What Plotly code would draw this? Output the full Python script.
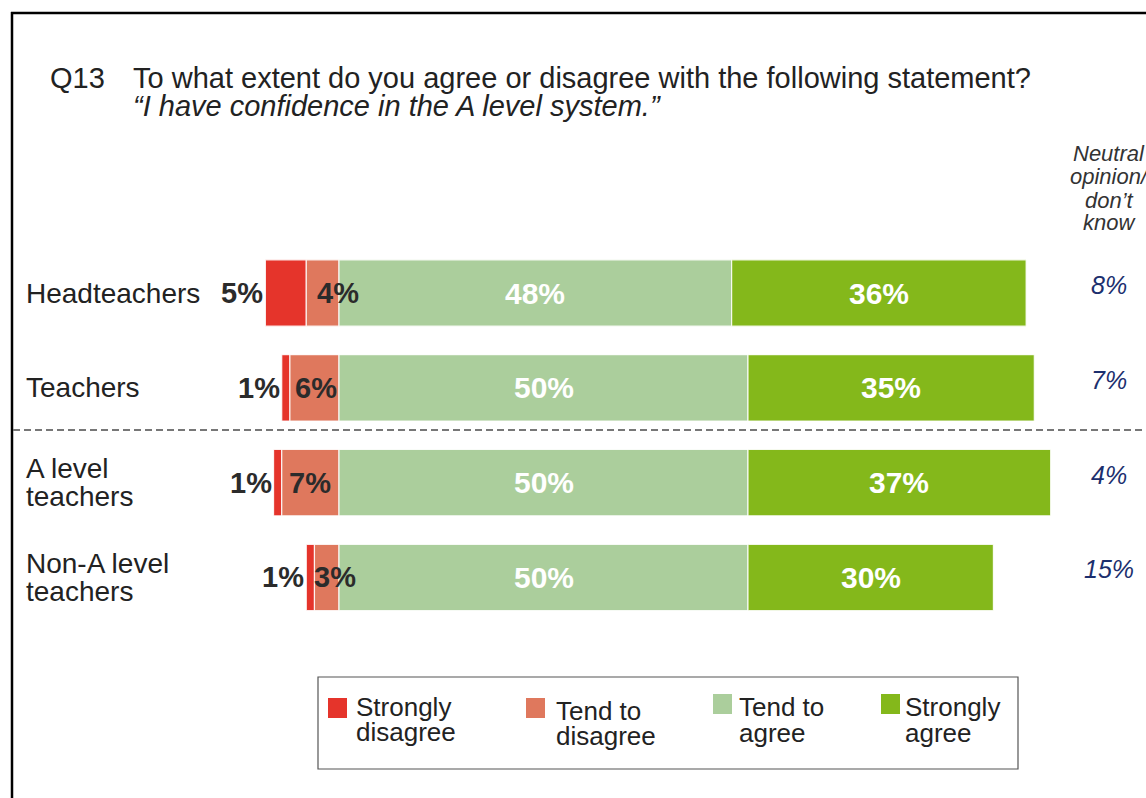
import plotly.graph_objects as go

# Survey responses (percent) per respondent group
groups = ["Headteachers", "Teachers", "A level teachers", "Non-A level teachers"]
group_label_lines = [["Headteachers"], ["Teachers"], ["A level", "teachers"], ["Non-A level", "teachers"]]
strongly_disagree = [5, 1, 1, 1]
tend_to_disagree = [4, 6, 7, 3]
tend_to_agree = [48, 50, 50, 50]
strongly_agree = [36, 35, 37, 30]
neutral_dont_know = [8, 7, 4, 15]

series_names = ["Strongly disagree", "Tend to disagree", "Tend to agree", "Strongly agree"]
series_colors = ["#e5342b", "#df785d", "#abce9c", "#84b81b"]

W, H = 1146, 798
FONT = "Liberation Sans, Arial, sans-serif"


def px(x):
    return x / W


def py(y):
    return 1 - y / H


rows = list(range(len(groups)))

fig = go.Figure()

# Diverging stacked bars: disagree to the left of zero, agree to the right
sd_base = [-(a + b) for a, b in zip(strongly_disagree, tend_to_disagree)]
td_base = [-b for b in tend_to_disagree]
sa_base = list(tend_to_agree)
bases = [sd_base, td_base, [0] * len(groups), sa_base]
values = [strongly_disagree, tend_to_disagree, tend_to_agree, strongly_agree]

for name, color, vals, base in zip(series_names, series_colors, values, bases):
    fig.add_trace(go.Bar(
        y=rows, x=vals, base=base, orientation="h", name=name,
        marker=dict(color=color, line=dict(color="rgba(255,255,255,0.85)", width=1.2)),
        width=0.70, showlegend=False, hoverinfo="skip",
    ))

annotations = []
label_font = dict(family=FONT, size=29, color="#2b2b2b")
white_font = dict(family=FONT, size=30, color="#ffffff")
td_shift = [15, 2, 0, 8]

for i in rows:
    sd, td, ta, sa = strongly_disagree[i], tend_to_disagree[i], tend_to_agree[i], strongly_agree[i]
    annotations.append(dict(x=-(sd + td), y=i, xref="x", yref="y", text=f"<b>{sd}%</b>",
                            showarrow=False, xanchor="right", xshift=0, font=label_font))
    annotations.append(dict(x=-td / 2, y=i, xref="x", yref="y", text=f"<b>{td}%</b>",
                            showarrow=False, xanchor="center", xshift=td_shift[i], font=label_font))
    annotations.append(dict(x=ta / 2, y=i, xref="x", yref="y", text=f"<b>{ta}%</b>",
                            showarrow=False, xanchor="center", font=white_font))
    annotations.append(dict(x=ta + sa / 2, y=i, xref="x", yref="y", text=f"<b>{sa}%</b>",
                            showarrow=False, xanchor="center", font=white_font))
    # neutral / don't know column
    annotations.append(dict(x=px(1109), y=i, xref="paper", yref="y", text=f"<i>{neutral_dont_know[i]}%</i>",
                            showarrow=False, xanchor="center", yshift=8,
                            font=dict(family=FONT, size=25, color="#1c2f6e")))
    # group label, one annotation per line
    lines = group_label_lines[i]
    offsets = [0] if len(lines) == 1 else [14, -14]
    for line, off in zip(lines, offsets):
        annotations.append(dict(x=px(24), y=i, xref="paper", yref="y", text=line,
                                showarrow=False, xanchor="left", yanchor="middle", yshift=off,
                                font=dict(family=FONT, size=28, color="#222222")))

# Neutral column header
for txt, yy in zip(["Neutral", "opinion/", "don\u2019t", "know"], [154, 177, 200, 222]):
    annotations.append(dict(x=px(1109), y=py(yy), xref="paper", yref="paper", text=f"<i>{txt}</i>",
                            showarrow=False, xanchor="center", yanchor="middle",
                            font=dict(family=FONT, size=22, color="#333333")))

# Title
title_font = dict(family=FONT, size=29, color="#222222")
annotations.append(dict(x=px(48), y=py(78), xref="paper", yref="paper", text="Q13",
                        showarrow=False, xanchor="left", yanchor="middle", font=title_font))
annotations.append(dict(x=px(131), y=py(78), xref="paper", yref="paper",
                        text="To what extent do you agree or disagree with the following statement?",
                        showarrow=False, xanchor="left", yanchor="middle", font=title_font))
annotations.append(dict(x=px(131), y=py(106), xref="paper", yref="paper",
                        text="<i>\u201cI have confidence in the A level system.\u201d</i>",
                        showarrow=False, xanchor="left", yanchor="middle", font=title_font))

shapes = []
# outer frame (left and top edges)
shapes.append(dict(type="line", xref="paper", yref="paper", x0=px(12), x1=px(12), y0=py(12), y1=0,
                   line=dict(color="black", width=2.5)))
shapes.append(dict(type="line", xref="paper", yref="paper", x0=px(11), x1=1, y0=py(13), y1=py(13),
                   line=dict(color="black", width=2.5)))
# divider between all teachers and subgroups
shapes.append(dict(type="line", xref="paper", yref="paper", x0=px(13), x1=1, y0=py(430), y1=py(430),
                   line=dict(color="#777777", width=2, dash="7px,4px")))
# legend box
shapes.append(dict(type="rect", xref="paper", yref="paper", x0=px(318), x1=px(1018), y0=py(677), y1=py(769),
                   line=dict(color="#555555", width=1.2), fillcolor="rgba(0,0,0,0)"))

legend_items = [
    # (swatch x, swatch top y, text x, first line y, second line y, line1, line2)
    (328, 698, 354, 707, 732, "Strongly", "disagree"),
    (526, 698, 554, 711, 736, "Tend to", "disagree"),
    (713, 694, 737, 707, 733, "Tend to", "agree"),
    (881, 694, 903, 707, 733, "Strongly", "agree"),
]
for (sx, sy, tx, l1, l2, t1, t2), color in zip(legend_items, series_colors):
    shapes.append(dict(type="rect", xref="paper", yref="paper", x0=px(sx), x1=px(sx + 19),
                       y0=py(sy), y1=py(sy + 20), line=dict(width=0), fillcolor=color))
    for t, yy in ((t1, l1), (t2, l2)):
        annotations.append(dict(x=px(tx), y=py(yy), xref="paper", yref="paper", text=t,
                                showarrow=False, xanchor="left", yanchor="middle",
                                font=dict(family=FONT, size=26, color="#222222")))

row_pitch = 94.83
top_center = 293
y_top = -top_center / row_pitch
y_bottom = y_top + H / row_pitch
x_scale = 8.18
x_left = -339 / x_scale
x_right = x_left + W / x_scale

fig.update_layout(
    width=W, height=H,
    margin=dict(l=0, r=0, t=0, b=0),
    paper_bgcolor="white", plot_bgcolor="white",
    barmode="overlay",
    xaxis=dict(range=[x_left, x_right], visible=False, fixedrange=True),
    yaxis=dict(range=[y_bottom, y_top], visible=False, fixedrange=True),
    annotations=annotations,
    shapes=shapes,
    showlegend=False,
)

fig.write_html("out.html", config={"displayModeBar": False})
